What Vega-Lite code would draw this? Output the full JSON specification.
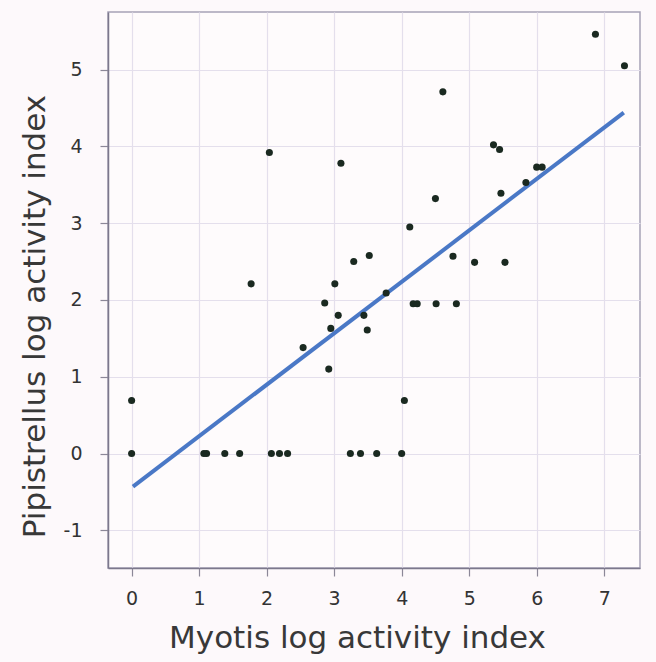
{
  "$schema": "https://vega.github.io/schema/vega-lite/v6.json",
  "autosize": {"type": "none"},
  "width": 532,
  "height": 556,
  "padding": {"left": 108, "top": 12, "right": 16, "bottom": 94},
  "background": "#fdf9fb",
  "config": {
    "view": {"stroke": "#a6a2b6", "strokeWidth": 1.5, "fill": "#fefbfc"},
    "axis": {
      "labelFont": "DejaVu Sans",
      "titleFont": "DejaVu Sans",
      "labelFontSize": 19,
      "titleFontSize": 31,
      "titleFontWeight": "normal",
      "labelColor": "#333333",
      "titleColor": "#383838",
      "domainColor": "#7c788c",
      "domainWidth": 1.5,
      "tickColor": "#8c8898",
      "tickSize": 8,
      "tickWidth": 1.2,
      "gridColor": "#e4dfec",
      "gridWidth": 1.2,
      "labelExpr": "'' + datum.value"
    }
  },
  "datasets": {
    "bats": [
      {"myotis": 0, "pipistrellus": 0.69},
      {"myotis": 0, "pipistrellus": 0},
      {"myotis": 1.07, "pipistrellus": 0},
      {"myotis": 1.11, "pipistrellus": 0},
      {"myotis": 1.38, "pipistrellus": 0},
      {"myotis": 1.6, "pipistrellus": 0},
      {"myotis": 2.07, "pipistrellus": 0},
      {"myotis": 2.19, "pipistrellus": 0},
      {"myotis": 2.31, "pipistrellus": 0},
      {"myotis": 1.77, "pipistrellus": 2.21},
      {"myotis": 2.04, "pipistrellus": 3.92},
      {"myotis": 2.54, "pipistrellus": 1.38},
      {"myotis": 2.92, "pipistrellus": 1.1},
      {"myotis": 2.86, "pipistrellus": 1.96},
      {"myotis": 3.01, "pipistrellus": 2.21},
      {"myotis": 2.95, "pipistrellus": 1.63},
      {"myotis": 3.06, "pipistrellus": 1.8},
      {"myotis": 3.1, "pipistrellus": 3.78},
      {"myotis": 3.24, "pipistrellus": 0},
      {"myotis": 3.39, "pipistrellus": 0},
      {"myotis": 3.63, "pipistrellus": 0},
      {"myotis": 4.0, "pipistrellus": 0},
      {"myotis": 4.04, "pipistrellus": 0.69},
      {"myotis": 3.29, "pipistrellus": 2.5},
      {"myotis": 3.52, "pipistrellus": 2.58},
      {"myotis": 3.44, "pipistrellus": 1.8},
      {"myotis": 3.49, "pipistrellus": 1.61},
      {"myotis": 3.77, "pipistrellus": 2.09},
      {"myotis": 4.12, "pipistrellus": 2.95},
      {"myotis": 4.17, "pipistrellus": 1.95},
      {"myotis": 4.23, "pipistrellus": 1.95},
      {"myotis": 4.51, "pipistrellus": 1.95},
      {"myotis": 4.81, "pipistrellus": 1.95},
      {"myotis": 4.5, "pipistrellus": 3.32},
      {"myotis": 4.61, "pipistrellus": 4.71},
      {"myotis": 4.76, "pipistrellus": 2.57},
      {"myotis": 5.08, "pipistrellus": 2.49},
      {"myotis": 5.36, "pipistrellus": 4.02},
      {"myotis": 5.45, "pipistrellus": 3.96},
      {"myotis": 5.47, "pipistrellus": 3.39},
      {"myotis": 5.53, "pipistrellus": 2.49},
      {"myotis": 5.84, "pipistrellus": 3.53},
      {"myotis": 6.0, "pipistrellus": 3.73},
      {"myotis": 6.08, "pipistrellus": 3.73},
      {"myotis": 6.87, "pipistrellus": 5.46},
      {"myotis": 7.3, "pipistrellus": 5.05}
    ],
    "fit": [
      {"myotis": 0.02, "pipistrellus": -0.43},
      {"myotis": 7.29, "pipistrellus": 4.44}
    ]
  },
  "layer": [
    {
      "data": {"name": "fit"},
      "mark": {"type": "line", "color": "#4a78c6", "strokeWidth": 4},
      "encoding": {
        "x": {
          "field": "myotis", "type": "quantitative",
          "scale": {"domain": [-0.35, 7.53], "nice": false, "zero": false},
          "axis": {
            "title": "Myotis log activity index",
            "values": [0, 1, 2, 3, 4, 5, 6, 7],
            "labelPadding": 13,
            "titlePadding": 15,
            "titleX": 249,
            "titleAlign": "center"
          }
        },
        "y": {
          "field": "pipistrellus", "type": "quantitative",
          "scale": {"domain": [-1.49, 5.75], "nice": false, "zero": false},
          "axis": {
            "title": "Pipistrellus log activity index",
            "values": [-1, 0, 1, 2, 3, 4, 5],
            "labelPadding": 18,
            "titlePadding": 12,
            "titleY": 304,
            "titleAlign": "center"
          }
        }
      }
    },
    {
      "data": {"name": "bats"},
      "mark": {"type": "circle", "size": 50, "color": "#1a2920", "opacity": 1},
      "encoding": {
        "x": {"field": "myotis", "type": "quantitative"},
        "y": {"field": "pipistrellus", "type": "quantitative"}
      }
    }
  ]
}
